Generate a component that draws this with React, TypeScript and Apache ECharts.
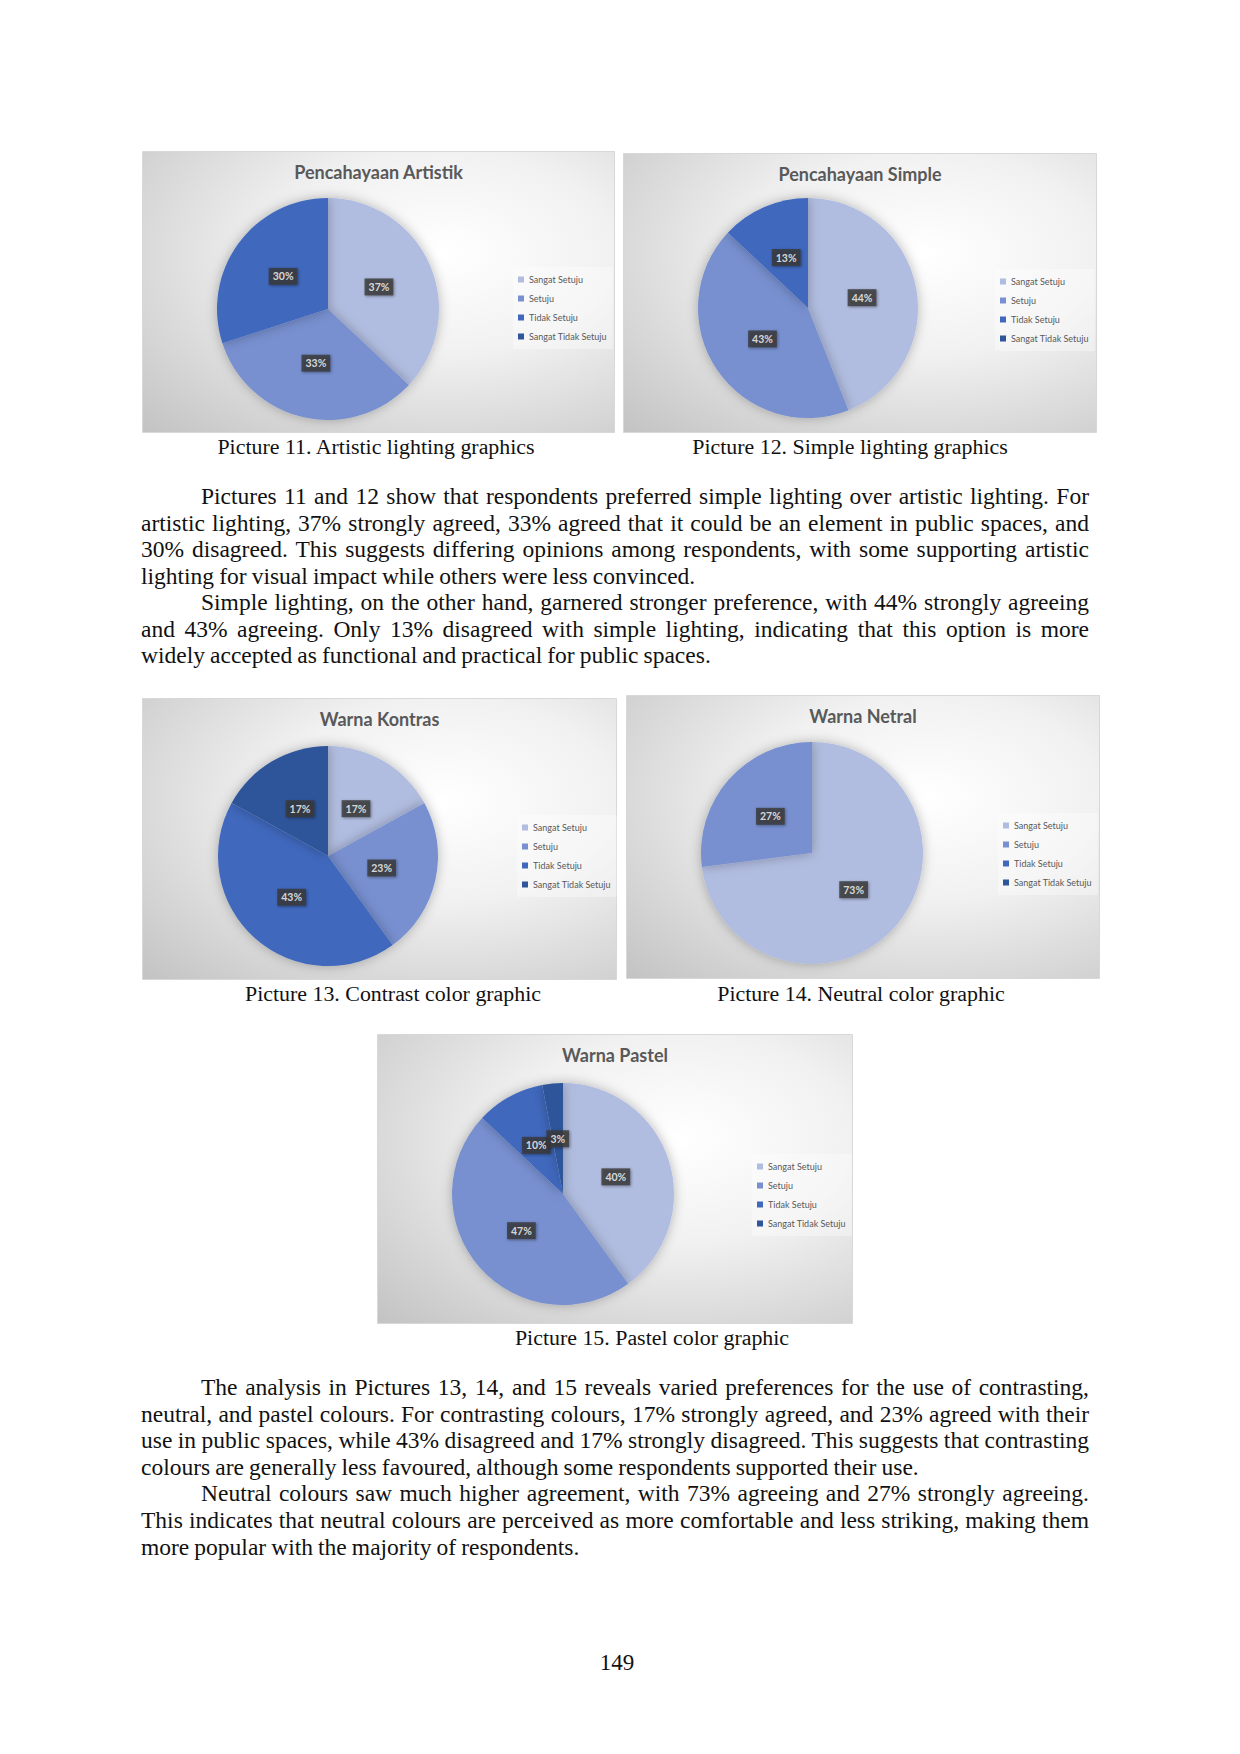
import * as echarts from "echarts";
import React, { useEffect, useRef } from "react";

// legend categories and slice colours (shared by all five charts)
const categories = ["Sangat Setuju", "Setuju", "Tidak Setuju", "Sangat Tidak Setuju"];
const sliceColors = ["#b1bde0", "#7890d0", "#4068bd", "#2f559a"];

// percentages, in category order
const artistikValues = [37, 33, 30, 0];
const simpleValues = [44, 43, 13, 0];
const kontrasValues = [17, 23, 43, 17];
const netralValues = [73, 27, 0, 0];
const pastelValues = [40, 47, 10, 3];

const paragraphOne = [
  { text: "Pictures 11 and 12 show that respondents preferred simple lighting over artistic lighting. For", indent: true, last: false },
  { text: "artistic lighting, 37% strongly agreed, 33% agreed that it could be an element in public spaces, and", indent: false, last: false },
  { text: "30% disagreed. This suggests differing opinions among respondents, with some supporting artistic", indent: false, last: false },
  { text: "lighting for visual impact while others were less convinced.", indent: false, last: true },
  { text: "Simple lighting, on the other hand, garnered stronger preference, with 44% strongly agreeing", indent: true, last: false },
  { text: "and 43% agreeing. Only 13% disagreed with simple lighting, indicating that this option is more", indent: false, last: false },
  { text: "widely accepted as functional and practical for public spaces.", indent: false, last: true },
];

const paragraphTwo = [
  { text: "The analysis in Pictures 13, 14, and 15 reveals varied preferences for the use of contrasting,", indent: true, last: false },
  { text: "neutral, and pastel colours. For contrasting colours, 17% strongly agreed, and 23% agreed with their", indent: false, last: false },
  { text: "use in public spaces, while 43% disagreed and 17% strongly disagreed. This suggests that contrasting", indent: false, last: false },
  { text: "colours are generally less favoured, although some respondents supported their use.", indent: false, last: true },
  { text: "Neutral colours saw much higher agreement, with 73% agreeing and 27% strongly agreeing.", indent: true, last: false },
  { text: "This indicates that neutral colours are perceived as more comfortable and less striking, making them", indent: false, last: false },
  { text: "more popular with the majority of respondents.", indent: false, last: true },
];

type PanelProps = {
  title: string;
  values: number[];
  left: number;
  top: number;
  width: number;
  height: number;
  center: [number, number];
  radius: number;
  legendLeft: number;
  legendTop: number;
};

const PiePanel: React.FC<PanelProps> = (props) => {
  const chartRef = useRef<HTMLDivElement | null>(null);

  useEffect(() => {
    const chart = echarts.init(chartRef.current, null, { renderer: "svg" });

    // label anchors: half radius, middle of each slice (polar scale does the placing)
    const total = props.values.reduce((a, b) => a + b, 0);
    let acc = 0;
    const labelPoints: { value: [number, number]; pct: number }[] = [];
    props.values.forEach((v) => {
      if (v > 0) labelPoints.push({ value: [0.5, ((acc + v / 2) / total) * 100], pct: v });
      acc += v;
    });

    chart.setOption({
      animation: false,
      graphic: {
        elements: [
          {
            type: "rect",
            z: -100,
            silent: true,
            shape: { x: 0.5, y: 0.5, width: props.width - 1, height: props.height - 1 },
            style: {
              fill: new echarts.graphic.RadialGradient(0.64, 0.36, 0.9, [
                { offset: 0, color: "#ffffff" },
                { offset: 0.4, color: "#f1f1f1" },
                { offset: 1, color: "#c3c3c3" },
              ]),
              stroke: "#d8d8d8",
              lineWidth: 1,
            },
          },
        ],
      },
      title: {
        text: props.title,
        left: "center",
        top: 12,
        padding: 0,
        textStyle: {
          fontFamily: "Lato",
          fontSize: 18,
          fontWeight: "bold",
          color: "#595959",
        },
      },
      legend: {
        orient: "vertical",
        left: props.legendLeft,
        top: props.legendTop,
        data: categories,
        icon: "rect",
        itemWidth: 6,
        itemHeight: 6,
        itemGap: 8,
        padding: [7, 6, 7, 5],
        backgroundColor: "rgba(255,255,255,0.35)",
        selectedMode: false,
        textStyle: {
          fontFamily: "Lato",
          fontSize: 9,
          lineHeight: 11,
          color: "#595959",
        },
      },
      polar: {
        center: props.center,
        radius: [0, props.radius],
      },
      angleAxis: {
        type: "value",
        min: 0,
        max: 100,
        startAngle: 90,
        clockwise: true,
        show: false,
      },
      radiusAxis: {
        type: "value",
        min: 0,
        max: 1,
        show: false,
      },
      series: [
        {
          type: "pie",
          center: props.center,
          radius: props.radius,
          startAngle: 90,
          clockwise: true,
          avoidLabelOverlap: false,
          itemStyle: {
            borderWidth: 0,
            shadowBlur: 12,
            shadowColor: "rgba(0,0,0,0.28)",
          },
          emphasis: { disabled: true },
          label: { show: false },
          labelLine: { show: false },
          data: categories.map((name, i) => ({
            name,
            value: props.values[i],
            itemStyle: { color: sliceColors[i] },
          })),
        },
        {
          type: "scatter",
          coordinateSystem: "polar",
          symbolSize: 0,
          silent: true,
          z: 5,
          label: {
            show: true,
            position: "inside",
            formatter: (p: any) => p.data.pct + "%",
            color: "#ffffff",
            fontFamily: "Lato",
            fontWeight: "bold",
            fontSize: 10.5,
            backgroundColor: "#383838",
            padding: [3, 4, 3, 4],
            shadowBlur: 3,
            shadowOffsetX: 1,
            shadowOffsetY: 1,
            shadowColor: "rgba(0,0,0,0.45)",
          },
          data: labelPoints,
        },
      ],
    });

    return () => {
      chart.dispose();
    };
  }, []);

  return (
    <div
      ref={chartRef}
      style={{
        position: "absolute",
        left: props.left,
        top: props.top,
        width: props.width,
        height: props.height,
      }}
    ></div>
  );
};

const bodyFont = "'Liberation Serif', 'DejaVu Serif', serif";

const TextBlock: React.FC<{
  lines: { text: string; indent: boolean; last: boolean }[];
  top: number;
  lineHeight: number;
}> = ({ lines, top, lineHeight }) => (
  <div style={{ position: "absolute", left: 141, top, width: 948 }}>
    {lines.map((line, i) => (
      <div
        key={i}
        style={{
          height: lineHeight,
          lineHeight: lineHeight + "px",
          fontFamily: bodyFont,
          fontSize: 23.5,
          wordSpacing: -0.8,
          color: "#111",
          textIndent: line.indent ? 60 : 0,
          textAlign: "justify",
          textAlignLast: line.last ? "left" : "justify",
          whiteSpace: "nowrap",
        }}
      >
        {line.text}
      </div>
    ))}
  </div>
);

const Caption: React.FC<{ text: string; cx: number; cy: number }> = ({ text, cx, cy }) => (
  <div
    style={{
      position: "absolute",
      left: cx - 300,
      top: cy - 13,
      width: 600,
      height: 26,
      lineHeight: "26px",
      textAlign: "center",
      fontFamily: bodyFont,
      fontSize: 21.9,
      color: "#111",
    }}
  >
    {text}
  </div>
);

const App: React.FC = () => {
  return (
    <div
      style={{
        position: "absolute",
        left: 0,
        top: 0,
        width: 1240,
        height: 1754,
        background: "#ffffff",
        overflow: "hidden",
      }}
    >
      <PiePanel
        title="Pencahayaan Artistik"
        values={artistikValues}
        left={142}
        top={151}
        width={473}
        height={282}
        center={[186, 158]}
        radius={111}
        legendLeft={371}
        legendTop={116}
      />
      <PiePanel
        title="Pencahayaan Simple"
        values={simpleValues}
        left={623}
        top={153}
        width={474}
        height={280}
        center={[185, 155]}
        radius={110}
        legendLeft={372}
        legendTop={116}
      />
      <Caption text="Picture 11. Artistic lighting graphics" cx={376} cy={447} />
      <Caption text="Picture 12. Simple lighting graphics" cx={850} cy={447} />

      <TextBlock lines={paragraphOne} top={483} lineHeight={26.5} />

      <PiePanel
        title="Warna Kontras"
        values={kontrasValues}
        left={142}
        top={698}
        width={475}
        height={282}
        center={[186, 158]}
        radius={110}
        legendLeft={375}
        legendTop={117}
      />
      <PiePanel
        title="Warna Netral"
        values={netralValues}
        left={626}
        top={695}
        width={474}
        height={284}
        center={[186, 158]}
        radius={111}
        legendLeft={372}
        legendTop={118}
      />
      <Caption text="Picture 13. Contrast color graphic" cx={393} cy={994} />
      <Caption text="Picture 14. Neutral color graphic" cx={861} cy={994} />

      <PiePanel
        title="Warna Pastel"
        values={pastelValues}
        left={377}
        top={1034}
        width={476}
        height={290}
        center={[186, 160]}
        radius={111}
        legendLeft={375}
        legendTop={120}
      />
      <Caption text="Picture 15. Pastel color graphic" cx={652} cy={1338} />

      <TextBlock lines={paragraphTwo} top={1374} lineHeight={26.6} />

      <div
        style={{
          position: "absolute",
          left: 567,
          top: 1650,
          width: 100,
          textAlign: "center",
          lineHeight: "26px",
          fontFamily: bodyFont,
          fontSize: 23,
          color: "#111",
        }}
      >
        149
      </div>
    </div>
  );
};

export default App;
